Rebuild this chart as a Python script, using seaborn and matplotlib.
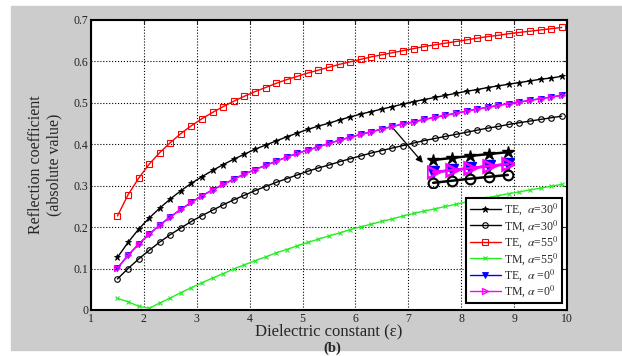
import matplotlib
matplotlib.use("Agg")
import matplotlib.pyplot as plt
import seaborn as sns
import pandas as pd
from matplotlib.patches import Rectangle

# Dielectric constant samples (step 0.2)
eps = [1.5, 1.7, 1.9, 2.1, 2.3, 2.5, 2.7, 2.9, 3.1, 3.3, 3.5, 3.7, 3.9, 4.1, 4.3,
       4.5, 4.7, 4.9, 5.1, 5.3, 5.5, 5.7, 5.9, 6.1, 6.3, 6.5, 6.7, 6.9, 7.1, 7.3,
       7.5, 7.7, 7.9, 8.1, 8.3, 8.5, 8.7, 8.9, 9.1, 9.3, 9.5, 9.7, 9.9]

te_30 = [0.127, 0.163, 0.195, 0.222, 0.246, 0.268, 0.288, 0.306, 0.322, 0.337, 0.351,
         0.364, 0.376, 0.388, 0.398, 0.408, 0.418, 0.427, 0.436, 0.444, 0.451, 0.459,
         0.466, 0.473, 0.479, 0.485, 0.491, 0.497, 0.503, 0.508, 0.513, 0.518, 0.523,
         0.528, 0.532, 0.537, 0.541, 0.545, 0.549, 0.553, 0.557, 0.560, 0.564]

tm_30 = [0.075, 0.100, 0.123, 0.144, 0.164, 0.182, 0.198, 0.214, 0.228, 0.241, 0.254,
         0.266, 0.277, 0.288, 0.298, 0.308, 0.317, 0.326, 0.335, 0.343, 0.350, 0.358,
         0.365, 0.372, 0.379, 0.385, 0.391, 0.397, 0.403, 0.409, 0.414, 0.419, 0.424,
         0.429, 0.434, 0.439, 0.443, 0.448, 0.452, 0.456, 0.460, 0.464, 0.468]

te_55 = [0.227, 0.278, 0.318, 0.352, 0.380, 0.404, 0.426, 0.445, 0.462, 0.477, 0.491,
         0.504, 0.516, 0.527, 0.537, 0.547, 0.556, 0.564, 0.572, 0.579, 0.586, 0.593,
         0.599, 0.605, 0.611, 0.616, 0.621, 0.626, 0.631, 0.636, 0.640, 0.644, 0.648,
         0.652, 0.656, 0.660, 0.663, 0.667, 0.670, 0.673, 0.676, 0.679, 0.682]

tm_55 = [0.028, 0.020, 0.009, 0.004, 0.017, 0.029, 0.042, 0.054, 0.066, 0.077, 0.088,
         0.099, 0.109, 0.119, 0.128, 0.138, 0.146, 0.155, 0.163, 0.171, 0.179, 0.186,
         0.194, 0.201, 0.207, 0.214, 0.220, 0.227, 0.233, 0.239, 0.244, 0.250, 0.255,
         0.261, 0.266, 0.271, 0.276, 0.281, 0.285, 0.290, 0.294, 0.299, 0.303]

te_0 = [0.101, 0.132, 0.159, 0.183, 0.205, 0.225, 0.243, 0.260, 0.276, 0.290, 0.303,
        0.316, 0.328, 0.339, 0.349, 0.359, 0.369, 0.378, 0.386, 0.394, 0.402, 0.410,
        0.417, 0.424, 0.430, 0.437, 0.443, 0.449, 0.454, 0.460, 0.465, 0.470, 0.475,
        0.480, 0.485, 0.489, 0.494, 0.498, 0.502, 0.506, 0.510, 0.514, 0.518]
tm_0 = list(te_0)

# points shown magnified in the inset
inset_eps = [4.1, 4.3, 4.5, 4.7, 4.9]
inset_te_30 = [0.398, 0.408, 0.418, 0.427, 0.436]
inset_te_0 = [0.339, 0.349, 0.359, 0.369, 0.378]
inset_tm_30 = [0.288, 0.298, 0.308, 0.317, 0.326]

sns.set_style("white")
plt.rcParams['font.family'] = ['Liberation Serif', 'DejaVu Serif']
plt.rcParams['mathtext.fontset'] = 'stix'

fig = plt.figure(figsize=(6.22, 3.56), dpi=100)
fig.patch.set_facecolor("white")
fig.patches.append(Rectangle((11 / 622, 6 / 356), 1 - 11 / 622, 344 / 356,
                             transform=fig.transFigure, color="#cccccc", zorder=-10))
ax = fig.add_axes([91 / 622, 46 / 356, 476 / 622, 290 / 356])
ax.set_facecolor("white")

series = [
    (te_30, r'TE,  $\alpha$=30$^0$', dict(color='black', marker='*', markersize=5, mfc='black', mec='black', mew=0.6)),
    (tm_30, r'TM, $\alpha$=30$^0$', dict(color='black', marker='o', markersize=4, mfc='none', mec='black', mew=0.8)),
    (te_55, r'TE,  $\alpha$=55$^0$', dict(color='red', marker='s', markersize=4, mfc='none', mec='red', mew=0.8)),
    (tm_55, r'TM, $\alpha$=55$^0$', dict(color='#22ee22', marker='x', markersize=3, mec='#22ee22', mew=0.8)),
    (te_0, r'TE,  $\alpha$ =0$^0$', dict(color='blue', marker='v', markersize=4.5, mfc='blue', mec='blue', mew=0.6)),
    (tm_0, r'TM, $\alpha$ =0$^0$', dict(color='magenta', marker='>', markersize=4.5, mfc='none', mec='magenta', mew=1.0)),
]
for vals, lab, kw in series:
    df = pd.DataFrame({'eps': eps, 'r': vals})
    sns.lineplot(data=df, x='eps', y='r', ax=ax, label=lab, lw=1, **kw)

ax.set_xlim(1, 10)
ax.set_ylim(0, 0.7)
ax.set_xticks(range(1, 11))
ax.set_yticks([0, 0.1, 0.2, 0.3, 0.4, 0.5, 0.6, 0.7])
ax.set_yticklabels(['0', '0.1', '0.2', '0.3', '0.4', '0.5', '0.6', '0.7'])
ax.grid(True, linestyle=':', color='black', lw=0.8)
ax.tick_params(direction='in', top=True, right=True, length=3, labelsize=8.5,
               labelcolor='#222222', pad=2)
for sp in ax.spines.values():
    sp.set_linewidth(1.5)
    sp.set_color('black')

ax.set_xlabel('Dielectric constant (ε)', fontsize=12, labelpad=-1)
ax.set_ylabel('Reflection coefficient\n(absolute value)', fontsize=11.5, labelpad=8)
fig.text(332 / 622, 1 - 348 / 356, '(b)', ha='center', va='center',
         fontsize=10.5, fontweight='bold')

leg = ax.legend(loc='lower right', bbox_to_anchor=(0.99, 0.024), borderaxespad=0,
                fontsize=8.5, labelspacing=0.05, handlelength=2.6, handletextpad=0.3,
                borderpad=0.3, fancybox=False, edgecolor='black', framealpha=1)
leg.get_frame().set_linewidth(1.5)

# arrow and magnified inset
ax.annotate('', xy=(7.31, 0.350), xytext=(6.69, 0.442),
            arrowprops=dict(arrowstyle='-|>', color='black', lw=0.9, mutation_scale=10))
ins = ax.inset_axes([7.35, 0.295, 1.65, 0.10], transform=ax.transData)
ins.set_facecolor('white')
ins.plot(inset_eps, inset_te_30, color='black', marker='*', markersize=9, lw=1.8)
ins.plot(inset_eps, inset_te_0, color='blue', marker='v', markersize=8, lw=1.8)
ins.plot(inset_eps, inset_te_0, color='magenta', marker='>', markersize=8, lw=1.8,
         mfc='none', mew=1.8)
ins.plot(inset_eps, inset_tm_30, color='black', marker='o', markersize=7, lw=1.8,
         mfc='none', mew=1.5)
ins.set_xlim(4.032, 4.968)
ins.set_ylim(0.264, 0.464)
ins.axis('off')
ins.patch.set_visible(True)

fig.savefig('out.png', dpi=100, facecolor=fig.get_facecolor())
